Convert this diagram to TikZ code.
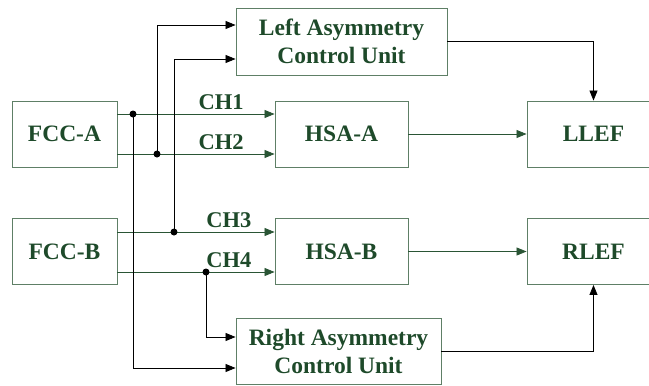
\documentclass[tikz,border=0pt]{standalone}
\usepackage{fontspec}
\setmainfont{Liberation Serif}
\usetikzlibrary{arrows.meta}
\definecolor{txtgreen}{HTML}{1E4A2A}
\definecolor{boxgreen}{HTML}{5E7F66}
\definecolor{linegreen}{HTML}{2A5535}
\tikzset{
  block/.style={draw=boxgreen, line width=0.9pt, inner sep=0pt, align=center,
    text=txtgreen, font=\fontsize{23.5}{28}\selectfont\bfseries},
  sig/.style={draw=linegreen, line width=0.8pt, -{Triangle[length=10pt,width=8pt]}},
  ctrl/.style={draw=black, line width=0.8pt, -{Triangle[length=10pt,width=8pt]}},
  chlabel/.style={text=txtgreen, font=\fontsize{22.5}{24}\selectfont\bfseries},
  joint/.style={circle, fill=black, inner sep=0pt, minimum size=7pt}
}
\begin{document}
\begin{tikzpicture}[x=1pt, y=-1pt]
  \useasboundingbox (0,0) rectangle (649,386);
  % blocks
  \node[block, minimum width=105pt, minimum height=66pt] (fa) at (64.5,134) {FCC-A};
  \node[block, minimum width=105pt, minimum height=66pt] (fb) at (64.5,251.5) {FCC-B};
  \node[block, minimum width=133pt, minimum height=66pt] (ha) at (341.5,134) {HSA-A};
  \node[block, minimum width=133pt, minimum height=66pt] (hb) at (341.5,251.5) {HSA-B};
  \node[block, minimum width=133pt, minimum height=66pt] (ll) at (593.5,134) {LLEF};
  \node[block, minimum width=133pt, minimum height=66pt] (rl) at (593.5,251.5) {RLEF};
  \node[block, minimum width=211pt, minimum height=67pt] (lacu) at (341.5,41.5) {Left Asymmetry\\Control Unit};
  \node[block, minimum width=205pt, minimum height=66pt] (racu) at (338.5,351) {Right Asymmetry\\Control Unit};

  % branch points
  \coordinate (d1) at (133,114);
  \coordinate (d2) at (157,154);
  \coordinate (d3) at (174,232);
  \coordinate (d4) at (206,272);

  % channels
  \draw[sig] (fa.east |- d1) -- (ha.west |- d1) node[chlabel, pos=0.66, above=1pt] {CH1};
  \draw[sig] (fa.east |- d2) -- (ha.west |- d2) node[chlabel, pos=0.66, above=1pt] {CH2};
  \draw[sig] (fb.east |- d3) -- (hb.west |- d3) node[chlabel, pos=0.71, above=1pt] {CH3};
  \draw[sig] (fb.east |- d4) -- (hb.west |- d4) node[chlabel, pos=0.71, above=1pt] {CH4};
  \draw[sig] (ha) -- (ll);
  \draw[sig] (hb) -- (rl);

  % taps to asymmetry units
  \draw[ctrl] (d2) |- ([yshift=16.5pt]lacu.west);
  \draw[ctrl] (d3) |- ([yshift=-17.5pt]lacu.west);
  \draw[ctrl] (d1) |- ([yshift=-17pt]racu.west);
  \draw[ctrl] (d4) |- ([yshift=14pt]racu.west);
  \foreach \d in {d1,d2,d3,d4}
    \node[joint] at (\d) {};

  % asymmetry outputs
  \draw[ctrl] (lacu.east) -| (ll.north);
  \draw[ctrl] (racu.east) -| (rl.south);
\end{tikzpicture}
\end{document}
